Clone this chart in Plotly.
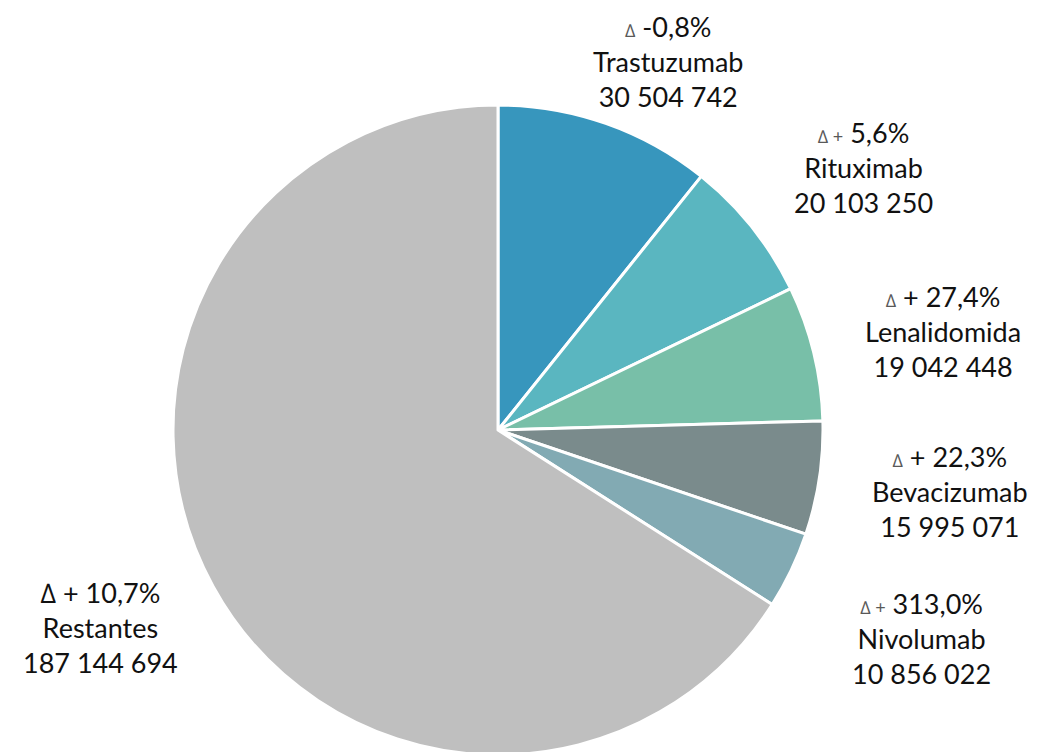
import plotly.graph_objects as go

labels = ["Trastuzumab", "Rituximab", "Lenalidomida", "Bevacizumab", "Nivolumab", "Restantes"]
values = [30504742, 20103250, 19042448, 15995071, 10856022, 187144694]
value_text = ["30 504 742", "20 103 250", "19 042 448", "15 995 071", "10 856 022", "187 144 694"]
delta_small = ["∆", "∆ +", "∆", "∆", "∆ +", ""]
delta_main = ["-0,8%", "5,6%", "+ 27,4%", "+ 22,3%", "313,0%", "∆ + 10,7%"]
colors = ["#3796BD", "#5AB6C0", "#78BFA8", "#7A8B8C", "#82AAB3", "#BFBFBF"]

W, H = 1040, 752
OFF = 8  # default page body margin
# label anchor positions in page pixels (layout only)
label_pos = [(668, 55), (863, 167), (943, 331), (950, 491), (921, 638), (100, 627)]

FONT = "Lato, 'Open Sans', sans-serif"
FS = 27
BOX_H = 3 * 1.3 * FS + 2

cx, cy, r = 498 - OFF, 430 - OFF, 325
fig = go.Figure()
fig.add_trace(go.Pie(
    labels=labels, values=values, sort=False, direction="clockwise", rotation=0,
    marker=dict(colors=colors, line=dict(color="white", width=3)),
    textinfo="none", hoverinfo="label+value", showlegend=False,
    domain=dict(x=[(cx - r - 5) / W, (cx + r + 5) / W],
                y=[(H - (cy + r)) / H, (H - (cy - r)) / H]),
))

for i, lab in enumerate(labels):
    x, y = label_pos[i]
    x -= OFF
    y -= OFF
    first = ""
    if delta_small[i]:
        first = f"<span style='font-size:18px;color:#595959'>{delta_small[i]}</span> "
    first += delta_main[i]
    txt = f"{first}<br>{lab}<br>{value_text[i]}"
    if y - BOX_H / 2 < 0:
        yy, ya = 1.0, "top"
    else:
        yy, ya = 1 - y / H, "middle"
    fig.add_annotation(x=x / W, y=yy, xref="paper", yref="paper",
                       text=txt, showarrow=False, xanchor="center", yanchor=ya,
                       font=dict(family=FONT, size=FS, color="#111111"), align="center")

fig.update_layout(width=W, height=H, margin=dict(l=0, r=0, t=0, b=0),
                  paper_bgcolor="white", plot_bgcolor="white", font=dict(family=FONT))
fig.write_html("out.html")
